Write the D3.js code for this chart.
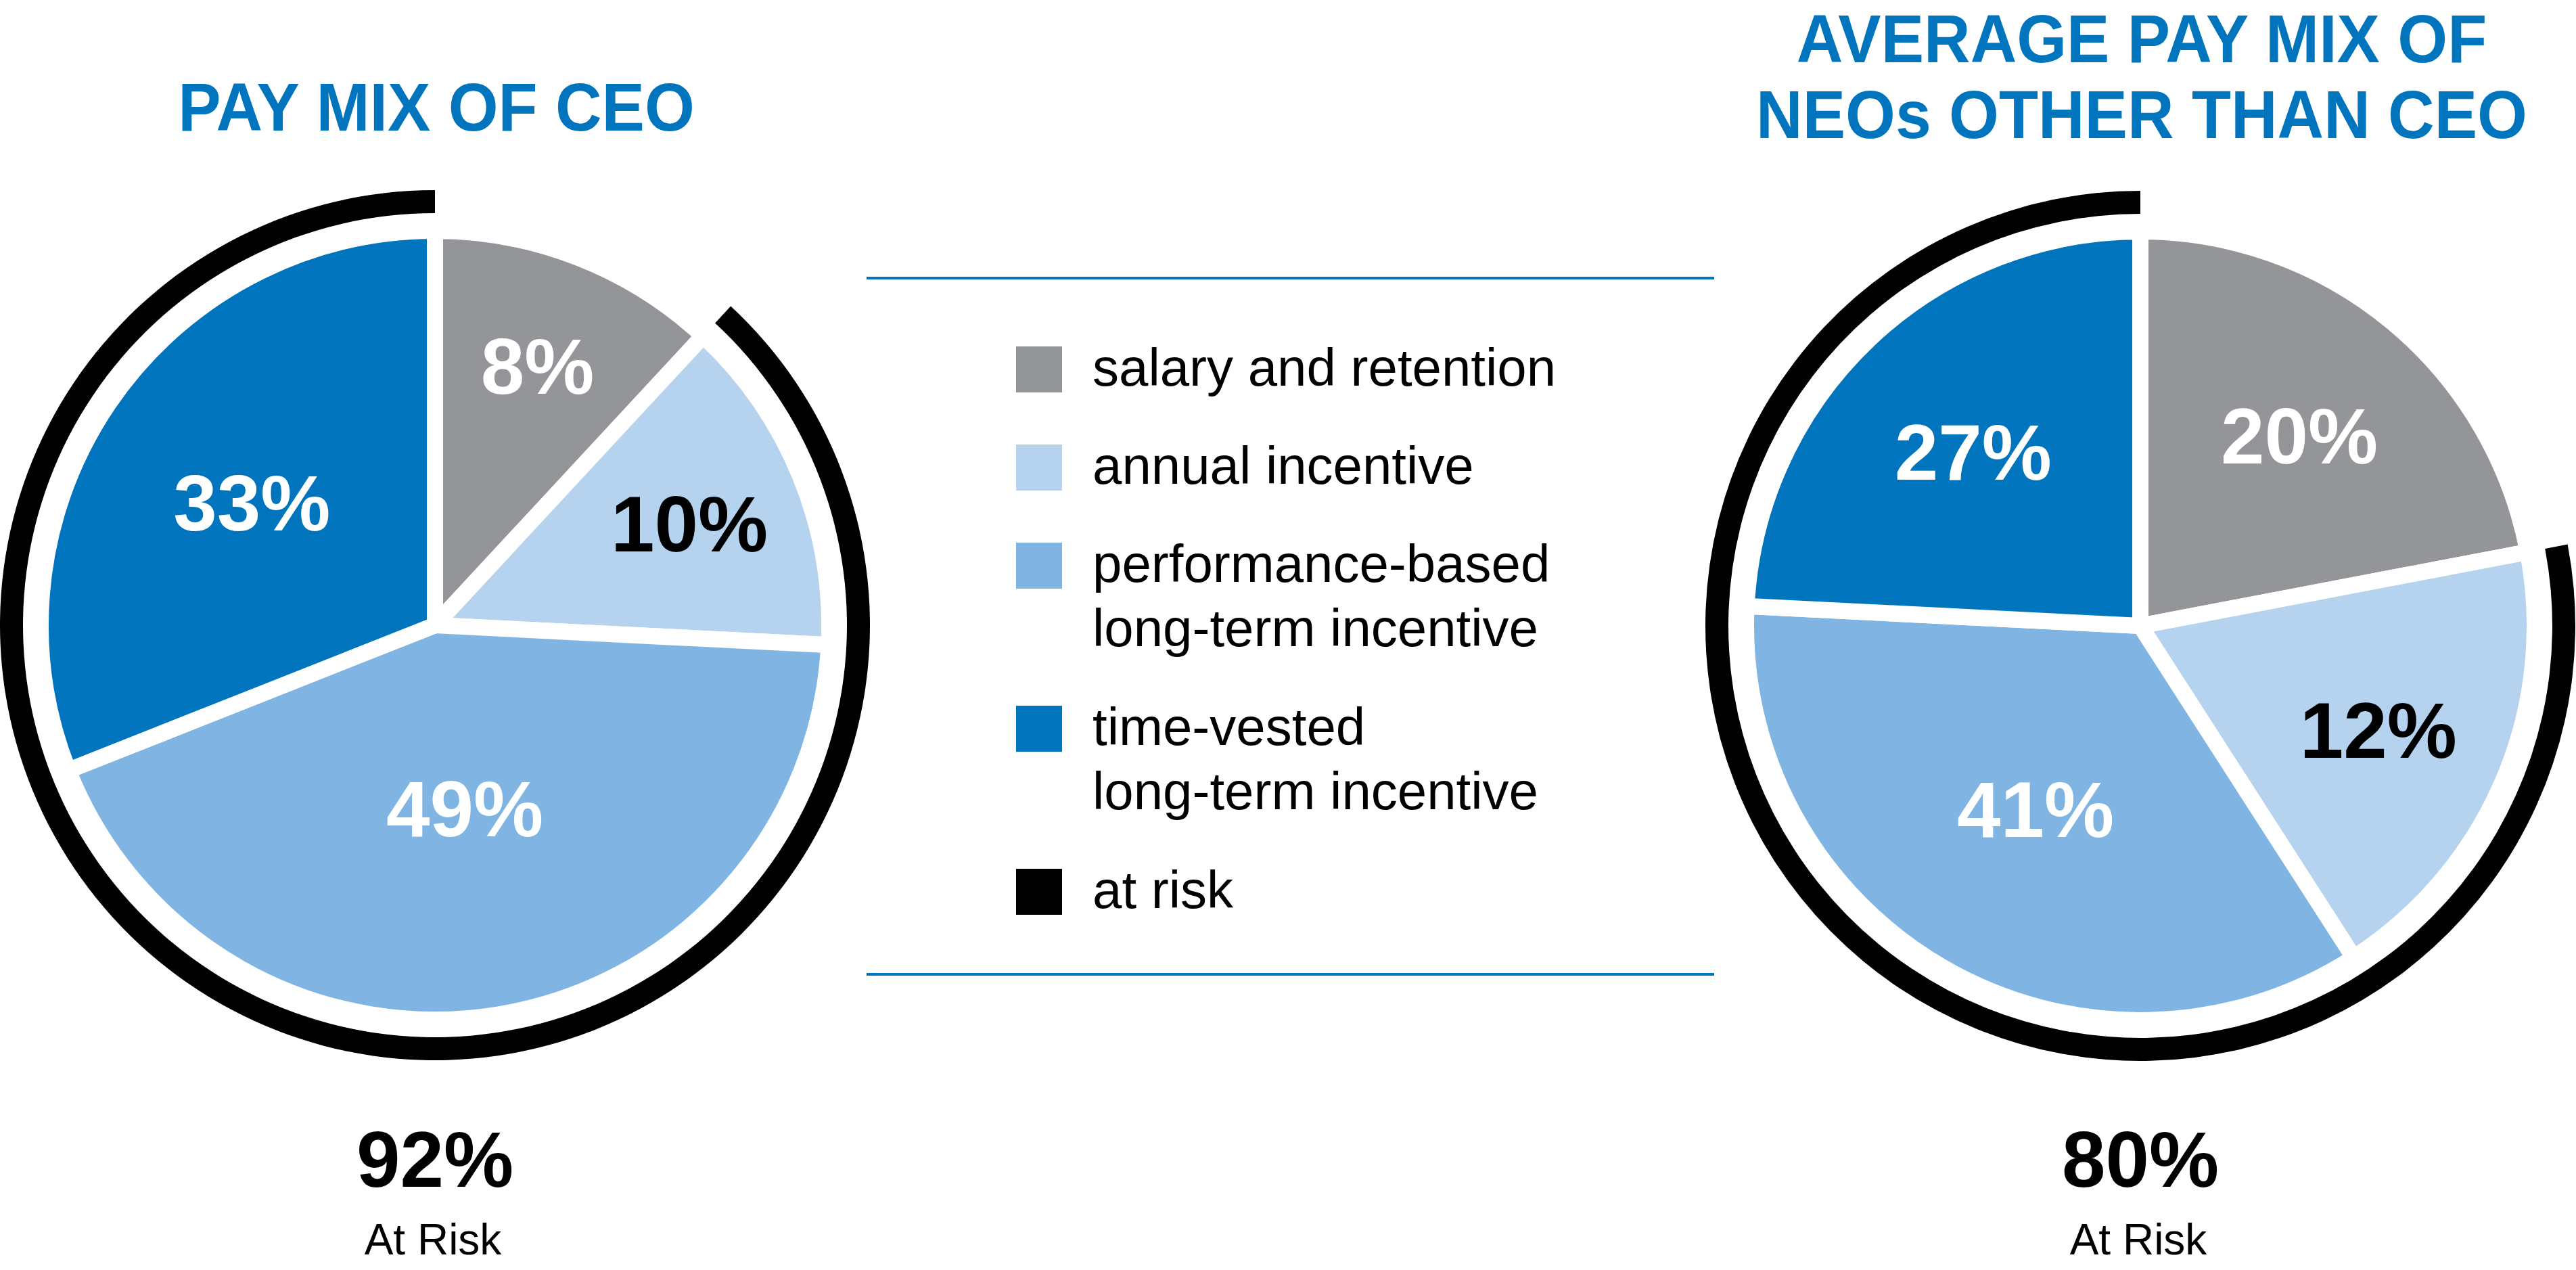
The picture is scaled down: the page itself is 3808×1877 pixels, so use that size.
<!DOCTYPE html>
<html>
<head>
<meta charset="utf-8">
<script src="https://cdn.jsdelivr.net/npm/d3@7"></script>
<style>
  body { margin: 0; background: #fff; }
  text { font-family: "Liberation Sans", Arial, Helvetica, sans-serif; }
</style>
</head>
<body>
<div id="paymix"></div>
<script>

// data
var categories = ["salary and retention", "annual incentive", "performance-based long-term incentive", "time-vested long-term incentive"];
var legendLines = [["salary and retention"], ["annual incentive"], ["performance-based", "long-term incentive"], ["time-vested", "long-term incentive"], ["at risk"]];

// slice sizes as drawn (angular share, %), and the printed labels
var ceoShares = [11.9, 13.9, 43.2, 31.0];
var ceoLabels = ["8%", "10%", "49%", "33%"];
var neoShares = [22.0, 18.9, 34.9, 24.2];
var neoLabels = ["20%", "12%", "41%", "27%"];

var atRiskValues = ["92%", "80%"];
var titles = [["PAY MIX OF CEO"], ["AVERAGE PAY MIX OF", "NEOs OTHER THAN CEO"]];

var colors = ["#939598", "#b5d3ef", "#80b5e3", "#0075be"];
var labelColors = ["#fff", "#000", "#fff", "#fff"];
var blue = "#0075be";

var width = 3808,
    height = 1877;

var svg = d3.select("#paymix")
  .append("svg")
    .attr("width", width)
    .attr("height", height);

var R = 571,          // visible pie radius
    gapW = 24,        // white separator
    ringIn = 609,
    ringOut = 643;

var pie = d3.pie().sort(null).value(function(d) { return d; });
var arc = d3.arc().innerRadius(0).outerRadius(R + gapW / 2);
var ring = d3.arc().innerRadius(ringIn).outerRadius(ringOut);

function drawPie(cx, cy, shares, labels) {
  var g = svg.append("g")
    .attr("transform", "translate(" + cx + "," + cy + ")");

  var arcs = pie(shares);

  g.selectAll("path.slice")
    .data(arcs)
    .enter()
    .append("path")
      .attr("class", "slice")
      .attr("d", arc)
      .attr("fill", function(d, i) { return colors[i]; })
      .attr("stroke", "#fff")
      .attr("stroke-width", gapW)
      .attr("stroke-linejoin", "round");

  // at risk ring: everything except salary
  g.append("path")
    .attr("d", ring({ startAngle: arcs[0].endAngle, endAngle: 2 * Math.PI }))
    .attr("fill", "#000");

  // labels, bigger slices sit a bit closer to the middle
  g.selectAll("text.lab")
    .data(arcs)
    .enter()
    .append("text")
      .attr("class", "lab")
      .attr("text-anchor", "middle")
      .attr("font-weight", "bold")
      .attr("font-size", 116)
      .attr("dy", "0.38em")
      .attr("fill", function(d, i) { return labelColors[i]; })
      .attr("x", function(d) {
        var a = (d.startAngle + d.endAngle) / 2, r = R * (0.823 - 0.806 * d.value / 100);
        return Math.sin(a) * r;
      })
      .attr("y", function(d) {
        var a = (d.startAngle + d.endAngle) / 2, r = R * (0.823 - 0.806 * d.value / 100);
        return -Math.cos(a) * r;
      })
      .text(function(d, i) { return labels[i]; });
}

drawPie(643, 924, ceoShares, ceoLabels);
drawPie(3164, 925, neoShares, neoLabels);

// titles
var titlePos = [{x: 645, y: 193}, {x: 3166, y: 92}];
titles.forEach(function(lines, k) {
  var t = svg.append("g")
    .attr("transform", "translate(" + titlePos[k].x + "," + titlePos[k].y + ") scale(0.95,1)");
  t.selectAll("text")
    .data(lines)
    .enter()
    .append("text")
      .attr("text-anchor", "middle")
      .attr("font-weight", "bold")
      .attr("font-size", 100)
      .attr("fill", blue)
      .attr("y", function(d, i) { return i * 112; })
      .text(function(d) { return d; });
});

// at risk totals under each pie
var riskX = [643, 3164];
atRiskValues.forEach(function(v, k) {
  svg.append("text")
    .attr("x", riskX[k])
    .attr("y", 1754)
    .attr("text-anchor", "middle")
    .attr("font-weight", "bold")
    .attr("font-size", 116)
    .text(v);
  svg.append("text")
    .attr("x", riskX[k] - 3)
    .attr("y", 1854)
    .attr("text-anchor", "middle")
    .attr("font-size", 64)
    .text("At Risk");
});

// legend
var leg = svg.append("g");

leg.selectAll("line")
  .data([411, 1440])
  .enter()
  .append("line")
    .attr("x1", 1281)
    .attr("x2", 2534)
    .attr("y1", function(d) { return d; })
    .attr("y2", function(d) { return d; })
    .attr("stroke", blue)
    .attr("stroke-width", 4);

var legColors = colors.concat(["#000"]);
var top0 = 512, step = 145, lineH = 96;
var tops = [];
var extra = 0;
legendLines.forEach(function(l, i) {
  tops.push(top0 + i * step + extra * lineH);
  extra += l.length - 1;
});

var item = leg.selectAll("g.item")
  .data(legendLines)
  .enter()
  .append("g")
    .attr("class", "item")
    .attr("transform", function(d, i) { return "translate(1502," + tops[i] + ")"; });

item.append("rect")
  .attr("width", 68)
  .attr("height", 68)
  .attr("fill", function(d, i) { return legColors[i]; });

item.selectAll("text")
  .data(function(d) { return d; })
  .enter()
  .append("text")
    .attr("x", 113)
    .attr("y", function(d, j) { return 58 + j * 95; })
    .attr("font-size", 78)
    .attr("fill", "#000")
    .text(function(d) { return d; });

</script>
</body>
</html>
